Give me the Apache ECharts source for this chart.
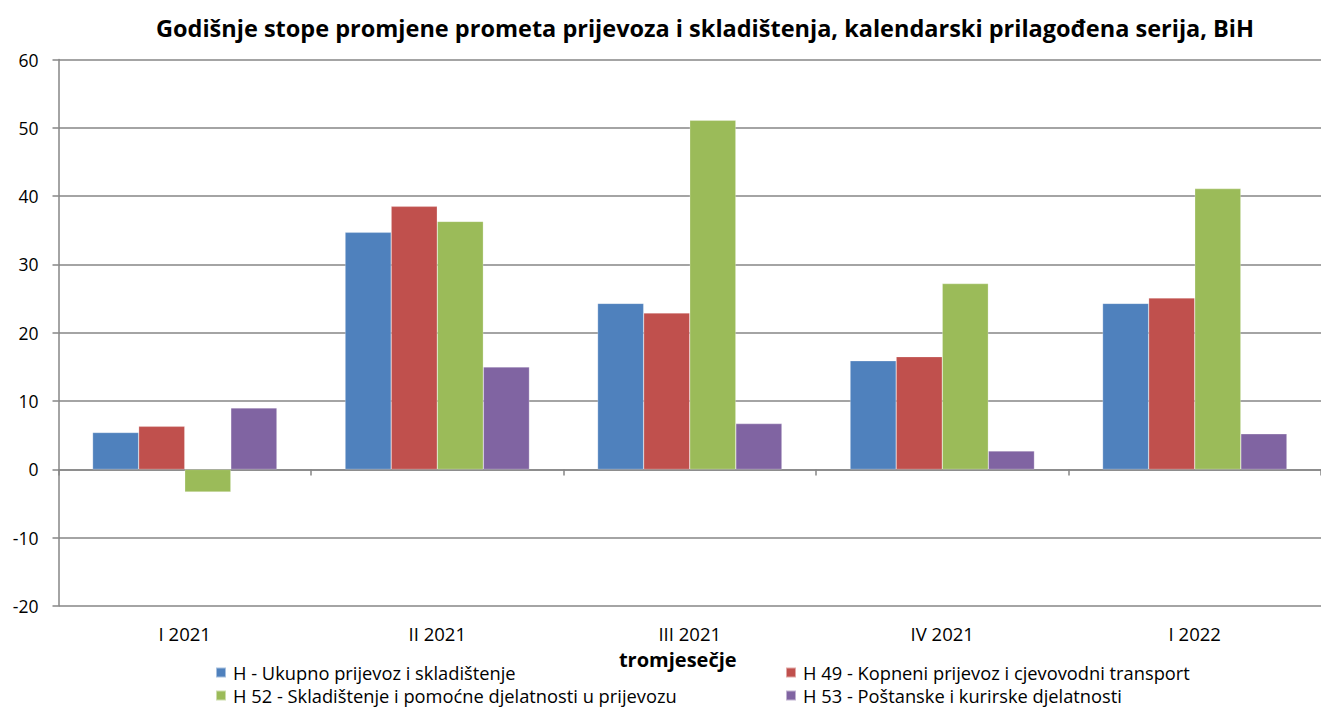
<!DOCTYPE html>
<html>
<head>
<meta charset="utf-8">
<script src="https://cdn.jsdelivr.net/npm/echarts@6/dist/echarts.min.js"></script>
<style>
html,body{margin:0;padding:0;background:#fff;}
#chart{width:1321px;height:707px;}
</style>
</head>
<body>
<div id="chart"></div>
<script>
const titleText = 'Godišnje stope promjene prometa prijevoza i skladištenja, kalendarski prilagođena serija, BiH';
const categories = ['I 2021', 'II 2021', 'III 2021', 'IV 2021', 'I 2022'];
const seriesNames = [
  'H - Ukupno prijevoz i skladištenje',
  'H 49 - Kopneni prijevoz i cjevovodni transport',
  'H 52 - Skladištenje i pomoćne djelatnosti u prijevozu',
  'H 53 - Poštanske i kurirske djelatnosti'
];
const valuesH = [5.4, 34.7, 24.3, 15.9, 24.3];
const valuesH49 = [6.3, 38.5, 22.9, 16.5, 25.1];
const valuesH52 = [-3.3, 36.3, 51.1, 27.2, 41.1];
const valuesH53 = [9.0, 15.0, 6.7, 2.7, 5.2];
const yTicks = {min: -20, max: 60, interval: 10};
const xAxisName = 'tromjesečje';

const colors = ['#4F81BD', '#C0504D', '#9BBB59', '#8064A2'];
const allValues = [valuesH, valuesH49, valuesH52, valuesH53];
const FONT = '"Open Sans", Lato, sans-serif';
const legendPos = [[215, 661], [785, 661], [215, 684], [785, 684]];

const chart = echarts.init(document.getElementById('chart'), null, {renderer: 'svg'});
const option = {
  animation: false,
  backgroundColor: '#fff',
  textStyle: {fontFamily: FONT, color: '#000'},
  title: {
    text: titleText,
    left: 700, top: 11, textAlign: 'center',
    textStyle: {fontFamily: FONT, fontSize: 23.5, fontWeight: 'bold', color: '#000'}
  },
  grid: {left: 58.5, right: -3, top: 59.5, bottom: 101, containLabel: false},
  legend: seriesNames.map((n, i) => ({
    data: [n],
    left: legendPos[i][0], top: legendPos[i][1], padding: 0,
    itemWidth: 10, itemHeight: 10, itemGap: 0, icon: 'rect',
    textStyle: {fontFamily: FONT, fontSize: 18.3, lineHeight: 23, color: '#000', padding: [0, 0, 0, 2]}
  })),
  xAxis: [
    {
      type: 'category', data: categories,
      axisLine: {onZero: true, lineStyle: {color: '#868686', width: 1.5}},
      axisTick: {show: true, length: 6, lineStyle: {color: '#868686', width: 1.5}},
      axisLabel: {show: false},
      splitLine: {show: false}
    },
    {
      type: 'category', data: categories, position: 'bottom',
      axisLine: {show: false, onZero: false},
      axisTick: {show: false},
      axisLabel: {show: true, margin: 18, fontFamily: FONT, fontSize: 18.5, color: '#000'},
      name: xAxisName, nameLocation: 'middle', nameGap: 43,
      nameTextStyle: {fontFamily: FONT, fontSize: 20, fontWeight: 'bold', color: '#000', padding: [0, 24, 0, 0]}
    }
  ],
  yAxis: {
    type: 'value', min: yTicks.min, max: yTicks.max, interval: yTicks.interval,
    axisLine: {show: true, lineStyle: {color: '#868686', width: 1.5}},
    axisTick: {show: true, length: 6, lineStyle: {color: '#868686', width: 1.5}},
    axisLabel: {fontFamily: FONT, fontSize: 17.5, color: '#000', margin: 20},
    splitLine: {show: true, lineStyle: {color: '#868686', width: 1.5}}
  },
  series: allValues.map((vals, i) => ({
    name: seriesNames[i],
    type: 'bar',
    xAxisIndex: 0,
    data: vals,
    barGap: '0%',
    barCategoryGap: '27%',
    itemStyle: {color: colors[i], borderColor: 'rgba(255,255,255,0.5)', borderWidth: 0.5}
  }))
};
chart.setOption(option);
</script>
</body>
</html>
